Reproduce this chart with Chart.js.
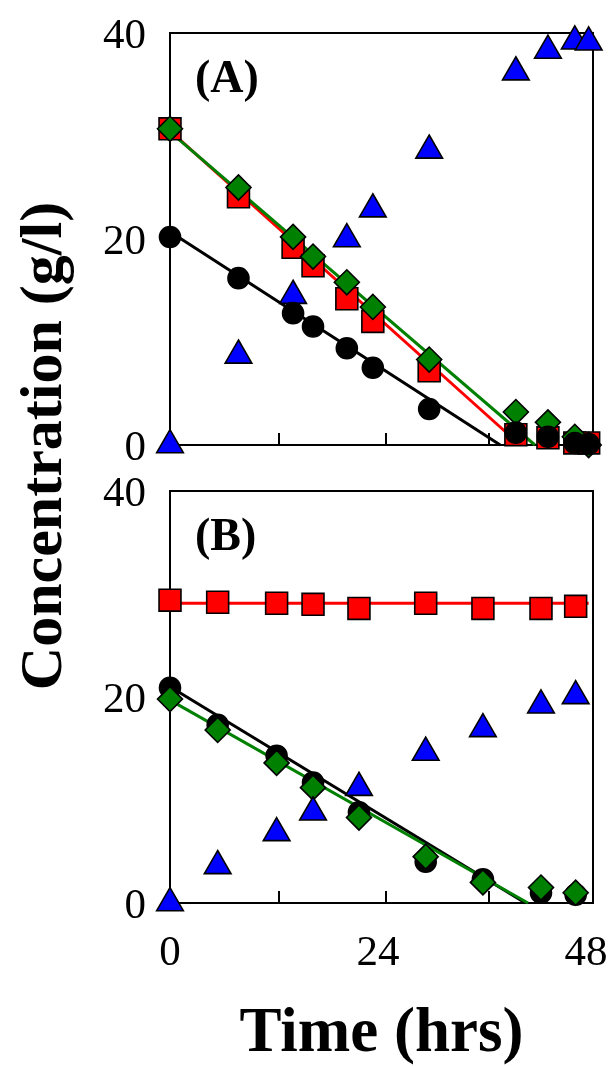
<!DOCTYPE html>
<html>
<head>
<meta charset="utf-8">
<script src="https://cdn.jsdelivr.net/npm/chart.js@4/dist/chart.umd.min.js"></script>
<style>
  html, body { margin: 0; padding: 0; background: #fff; }
  body { width: 611px; height: 1066px; position: relative; overflow: hidden; }
  canvas { position: absolute; left: 0; }
  #cA { top: 0; }
  #cB { top: 460px; }
  #ytitle {
    position: absolute; left: -263px; top: 416px; width: 600px; height: 60px;
    line-height: 60px; text-align: center; transform: rotate(-90deg);
    font: bold 60px "Liberation Serif", "Times New Roman", serif; color: #000;
    white-space: nowrap;
  }
</style>
</head>
<body>
<canvas id="cA" width="611" height="480"></canvas>
<canvas id="cB" width="611" height="606"></canvas>
<div id="ytitle">Concentration (g/l)</div>
<script>
// ---- Panel (A) ----
const timeA      = [0, 7.9, 14.2, 16.5, 20.4, 23.4, 29.9, 39.9, 43.6, 46.7, 48.3];
const circlesA   = [20.2, 16.2, 12.8, 11.5, 9.4, 7.5, 3.5, 1.2, 0.8, 0.2, 0.1];
const squaresA   = [30.7, 24.1, 19.2, 17.4, 14.2, 12.0, 7.2, 1.0, 0.7, 0.2, 0.2];
const diamondsA  = [30.7, 25.0, 20.2, 18.3, 15.8, 13.4, 8.3, 3.2, 2.2, 0.8, 0.0];
const trianglesA = [0, 8.7, 14.5, null, 20.0, 22.9, 28.6, 36.2, 38.3, 39.2, 39.1];
const fitA_circles_x  = [0, 38.1], fitA_circles_y  = [20.7, 0];
const fitA_squares_x  = [0, 40.4], fitA_squares_y  = [30.5, 0];
const fitA_diamonds_x = [0, 42.1], fitA_diamonds_y = [30.4, 0];

// ---- Panel (B) ----
const timeB      = [0, 5.5, 12.3, 16.5, 21.8, 29.5, 36.1, 42.8, 46.8];
const circlesB   = [20.9, 17.3, 14.3, 11.7, 8.8, 4.0, 2.3, 1.0, 0.8];
const squaresB   = [29.4, 29.2, 29.1, 29.0, 28.6, 29.1, 28.6, 28.6, 28.8];
const diamondsB  = [19.8, 16.8, 13.6, 11.2, 8.3, 4.5, 2.0, 1.5, 1.0];
const trianglesB = [0, 3.6, 6.8, 8.8, 11.2, 14.6, 16.9, 19.2, 20.1];
const fitB_squares_x  = [0, 48.3], fitB_squares_y  = [29.1, 29.1];
const fitB_circles_x  = [0, 41.0], fitB_circles_y  = [21.0, 0];
const fitB_diamonds_x = [0, 41.3], fitB_diamonds_y = [19.7, 0];

// ---- Axes ----
const xTickLabels = [0, 24, 48];
const xTickMarks  = [12.6, 24.9, 36.8];
const yTickLabels = [0, 20, 40];
const xRange = [0, 48.8];
const yRange = [0, 40];

const RED = '#ff0000', GREEN = '#008000', BLUE = '#0000ff', BLACK = '#000000';
const SERIF = '"Liberation Serif", "Times New Roman", serif';

function pts(xs, ys) {
  const out = [];
  xs.forEach((x, i) => { if (ys[i] !== null && ys[i] !== undefined) out.push({ x, y: ys[i] }); });
  return out;
}

function markers(data, style, color, radius, order) {
  return {
    data, showLine: false, pointStyle: style, pointRadius: radius, pointHoverRadius: radius,
    backgroundColor: color, borderColor: BLACK, pointBorderWidth: 1.6, order, clip: false
  };
}

function fitLine(data, color, order) {
  return {
    data, showLine: true, pointRadius: 0, borderColor: color, borderWidth: 3,
    backgroundColor: color, order, clip: false
  };
}

// Box around the plot area, inward tick marks on the time axis, panel letter
const framePlugin = {
  id: 'frame',
  beforeDatasetsDraw(chart, args, opts) {
    const { ctx, chartArea: a, scales: { x } } = chart;
    ctx.save();
    ctx.strokeStyle = BLACK;
    ctx.lineWidth = 2;
    ctx.strokeRect(a.left, a.top, a.right - a.left, a.bottom - a.top);
    ctx.beginPath();
    xTickMarks.forEach(v => {
      const px = Math.round(x.getPixelForValue(v));
      ctx.moveTo(px, a.bottom);
      ctx.lineTo(px, a.bottom - 12);
    });
    ctx.stroke();
    ctx.fillStyle = BLACK;
    ctx.font = 'bold 46px ' + SERIF;
    ctx.textBaseline = 'alphabetic';
    ctx.textAlign = 'left';
    ctx.fillText(opts.label, a.left + 25, a.top + 59);
    ctx.restore();
  }
};

function makeChart(id, datasets, panelLabel, showX, padding) {
  return new Chart(document.getElementById(id), {
    type: 'scatter',
    data: { datasets },
    plugins: [framePlugin],
    options: {
      responsive: false,
      animation: false,
      events: [],
      layout: { padding },
      plugins: { legend: { display: false }, tooltip: { enabled: false }, frame: { label: panelLabel } },
      scales: {
        x: {
          type: 'linear', min: xRange[0], max: xRange[1], display: showX,
          afterBuildTicks: s => { s.ticks = xTickLabels.map(v => ({ value: v })); },
          afterFit: s => {
            s.height = showX ? 163 : 0;
            s.paddingLeft = 0;
            s.paddingRight = 0;
          },
          grid: { display: false, drawTicks: false },
          border: { display: false },
          ticks: { padding: 25, color: BLACK, font: { family: SERIF, size: 43 }, maxRotation: 0, autoSkip: false },
          title: { display: showX, text: 'Time (hrs)', color: BLACK, padding: 0,
                   font: { family: SERIF, size: 63, weight: 'bold', lineHeight: 1 } }
        },
        y: {
          type: 'linear', min: yRange[0], max: yRange[1],
          afterBuildTicks: s => { s.ticks = yTickLabels.map(v => ({ value: v })); },
          afterFit: s => { s.width = 170; s.paddingTop = 0; s.paddingBottom = 0; },
          grid: { display: false, drawTicks: false },
          border: { display: false },
          ticks: { padding: 24, labelOffset: 4, color: BLACK, font: { family: SERIF, size: 43 }, autoSkip: false }
        }
      }
    }
  });
}

// Panel A: circles drawn over diamonds, diamonds over squares
makeChart('cA', [
  markers(pts(timeA, circlesA), 'circle', BLACK, 10.5, 1),
  markers(pts(timeA, diamondsA), 'rectRot', GREEN, 12.5, 2),
  markers(pts(timeA, squaresA), 'rect', RED, 15.5, 3),
  markers(pts(timeA, trianglesA), 'triangle', BLUE, 15.4, 4),
  fitLine(pts(fitA_diamonds_x, fitA_diamonds_y), GREEN, 5),
  fitLine(pts(fitA_squares_x, fitA_squares_y), RED, 6),
  fitLine(pts(fitA_circles_x, fitA_circles_y), BLACK, 7)
], '(A)', false, { top: 33, bottom: 35, left: 0, right: 18 });

// Panel B: diamonds drawn over circles
makeChart('cB', [
  markers(pts(timeB, trianglesB), 'triangle', BLUE, 15.4, 1),
  markers(pts(timeB, diamondsB), 'rectRot', GREEN, 12.5, 2),
  markers(pts(timeB, circlesB), 'circle', BLACK, 10.5, 3),
  markers(pts(timeB, squaresB), 'rect', RED, 15.5, 4),
  fitLine(pts(fitB_diamonds_x, fitB_diamonds_y), GREEN, 5),
  fitLine(pts(fitB_circles_x, fitB_circles_y), BLACK, 6),
  fitLine(pts(fitB_squares_x, fitB_squares_y), RED, 7)
], '(B)', true, { top: 31, bottom: 0, left: 0, right: 18 });
</script>
</body>
</html>
